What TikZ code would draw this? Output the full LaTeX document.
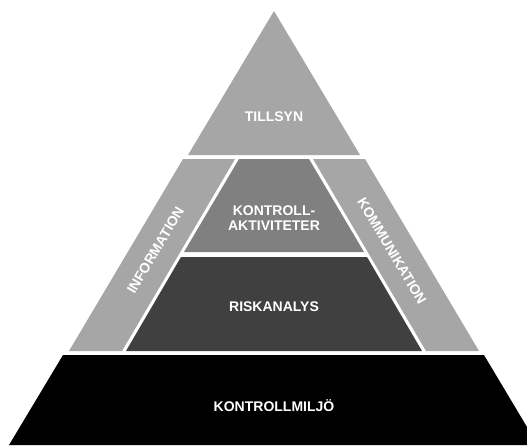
\documentclass[tikz,border=0pt]{standalone}
\usepackage{fontspec}
\setmainfont{Liberation Sans}
\usepackage{tikz}

\definecolor{lightgrey}{HTML}{A6A6A6}
\definecolor{midgrey}{HTML}{808080}
\definecolor{darkgrey}{HTML}{404040}

\tikzset{
    lbl/.style={text=white, font=\fontsize{14}{15.7}\selectfont\bfseries, inner sep=0pt, align=center}
}

\begin{document}
\begin{tikzpicture}[x=1pt, y=-1pt]
        \useasboundingbox (0,0) rectangle (527,445);
        % layers, top to bottom
        \fill[lightgrey] (274,11) -- (360,155) -- (188,155) -- cycle;
        \fill[lightgrey] (183,159) -- (235,159) -- (122,351) -- (69,351) -- cycle;
        \fill[lightgrey] (313,159) -- (365,159) -- (479,351) -- (426,351) -- cycle;
        \fill[midgrey] (239,159) -- (309,159) -- (364,252) -- (184,252) -- cycle;
        \fill[darkgrey] (181,257) -- (367,257) -- (422,351) -- (126,351) -- cycle;
        \fill[black] (63,355) -- (484,355) -- (527,427) -- (527,445) -- (9,445) -- cycle;
        % labels
        \node[lbl] (tillsyn) at (274,117) {TILLSYN};
        \node[lbl, rotate=59.3] (information) at (155.5,250) {INFORMATION};
        \node[lbl, rotate=-59.3] (kommunikation) at (392,251) {KOMMUNIKATION};
        \node[lbl] (aktiviteter) at (274,218) {KONTROLL-\\AKTIVITETER};
        \node[lbl] (riskanalys) at (274,307) {RISKANALYS};
        \node[lbl, anchor=base] (kontrollmiljo) at (274,411.5) {KONTROLLMILJÖ};
\end{tikzpicture}
\end{document}
